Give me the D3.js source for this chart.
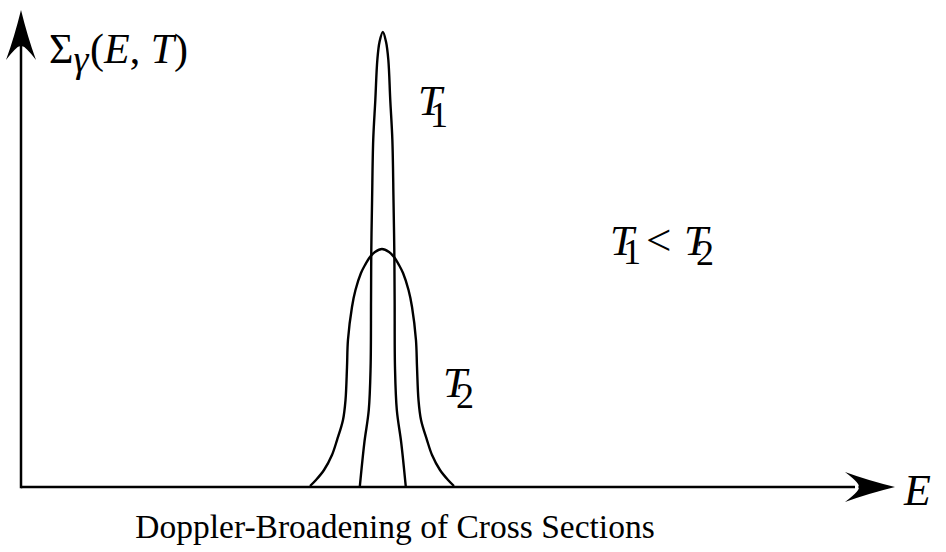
<!DOCTYPE html>
<html>
<head>
<meta charset="utf-8">
<script src="https://cdn.jsdelivr.net/npm/d3@7"></script>
<style>
  body { margin: 0; background: #ffffff; }
  svg text { font-family: "Liberation Serif", "Times New Roman", serif; fill: #000; }
</style>
</head>
<body>
<svg id="chart" width="946" height="552"></svg>
<script>
// Line shape at the lower temperature T1 (narrow peak), traced left base -> apex -> right base
const t1Energy = [38.76, 39.28, 39.79, 40.00, 40.05, 40.08, 40.17, 40.30, 40.54, 40.77, 41.02, 41.40,
                  41.77, 42.03, 42.25, 42.49, 42.62, 42.71, 42.75, 42.79, 43.00, 43.51, 44.03];
const t1Sigma  = [0.00, 9.22, 16.14, 25.16, 39.20, 49.69, 60.17, 72.75, 81.13, 89.52, 93.29, 95.39,
                  93.29, 89.52, 81.13, 72.75, 60.17, 49.69, 39.20, 25.16, 16.14, 9.22, 0.00];

// Line shape at the higher temperature T2 (Doppler-broadened peak)
const t2Energy = [33.07, 33.75, 34.67, 35.58, 36.16, 36.84, 37.13, 37.30, 37.41, 37.87, 38.27, 38.90,
                  39.36, 39.93, 40.50, 41.30,
                  42.11, 42.68, 43.25, 43.71, 44.34, 44.74, 45.19, 45.31, 45.48, 45.77, 46.45,
                  47.03, 47.94, 48.86, 49.54];
const t2Sigma  = [0.21, 1.47, 3.56, 6.71, 9.85, 14.05, 18.24, 25.16, 30.82, 37.74, 41.30, 44.86,
                  46.54, 48.22, 49.27, 49.90,
                  49.27, 48.22, 46.54, 44.86, 41.30, 37.74, 30.82, 25.16, 18.24, 14.05, 9.85,
                  6.71, 3.56, 1.47, 0.21];

const curveNames = ["1", "2"];
const xLabel = "E";
const titleText = "Doppler-Broadening of Cross Sections";

const svg = d3.select("#chart");

const x = d3.scaleLinear().domain([0, 100]).range([21, 895]);
const y = d3.scaleLinear().domain([0, 100]).range([487, 10]);

const ink = "#000";

// Axes with swept arrowheads
const x0 = x(0), y0 = y(0), xEnd = x(100), yEnd = y(100);
svg.append("line")
  .attr("x1", x0).attr("y1", y0).attr("x2", xEnd - 40).attr("y2", y0)
  .attr("stroke", ink).attr("stroke-width", 2.5);
svg.append("line")
  .attr("x1", x0).attr("y1", y0 + 1.2).attr("x2", x0).attr("y2", yEnd + 35)
  .attr("stroke", ink).attr("stroke-width", 2.5);

function arrowHead(tipX, tipY, angle) {
  // head drawn pointing along +x, then rotated
  const L = 50, W = 15, notch = 37;
  const p = d3.path();
  p.moveTo(0, 0);
  p.quadraticCurveTo(-L * 0.55, -W * 0.45, -L, -W);
  p.quadraticCurveTo(-notch + 4, -2, -notch, 0);
  p.quadraticCurveTo(-notch + 4, 2, -L, W);
  p.quadraticCurveTo(-L * 0.55, W * 0.45, 0, 0);
  p.closePath();
  svg.append("path")
    .attr("d", p.toString())
    .attr("transform", `translate(${tipX},${tipY}) rotate(${angle})`)
    .attr("fill", ink);
}
arrowHead(xEnd, y0, 0);
arrowHead(x0, yEnd, -90);

// Peak profiles
const line = d3.line()
  .x(d => x(d[0]))
  .y(d => y(d[1]))
  .curve(d3.curveCatmullRom.alpha(0.5));

const series = [
  { e: t1Energy, s: t1Sigma },
  { e: t2Energy, s: t2Sigma }
];
svg.selectAll("path.profile")
  .data(series)
  .join("path")
  .attr("class", "profile")
  .attr("d", d => line(d.e.map((v, i) => [v, d.s[i]])))
  .attr("fill", "none")
  .attr("stroke", ink)
  .attr("stroke-width", 2.4)
  .attr("stroke-linejoin", "round");

// Italic T with a subscript digit tucked under its arm
function tempSymbol(px, py, sub, subDx, subDy) {
  const t = svg.append("text").attr("x", px).attr("y", py).attr("font-size", 43);
  t.append("tspan").attr("font-style", "italic").text("T");
  t.append("tspan").attr("x", px + subDx).attr("dy", subDy)
    .attr("font-size", 36).text(sub);
}

tempSymbol(418, 115, curveNames[0], 12, 12);
tempSymbol(443, 397, curveNames[1], 13, 11);

// Inequality between the two temperatures
tempSymbol(610, 255, curveNames[0], 13, 9);
svg.append("text").attr("x", 646).attr("y", 255).attr("font-size", 45).text("<");
tempSymbol(684, 255, curveNames[1], 12, 10);

// Vertical axis label: Σγ(E, T)
const yl = svg.append("text").attr("x", 49).attr("y", 63).attr("font-size", 42);
yl.append("tspan").text("Σ");
yl.append("tspan").attr("font-style", "italic").attr("font-size", 38).attr("dy", 9).text("γ");
yl.append("tspan").attr("x", 90).attr("dy", -9).text("(");
yl.append("tspan").attr("font-style", "italic").text("E");
yl.append("tspan").text(", ");
yl.append("tspan").attr("font-style", "italic").text("T");
yl.append("tspan").text(")");

// Horizontal axis label
svg.append("text").attr("x", 904).attr("y", 505).attr("font-size", 44)
  .attr("font-style", "italic").text(xLabel);

// Caption
svg.append("text").attr("x", 395).attr("y", 538).attr("font-size", 33.5)
  .attr("text-anchor", "middle").text(titleText);
</script>
</body>
</html>
